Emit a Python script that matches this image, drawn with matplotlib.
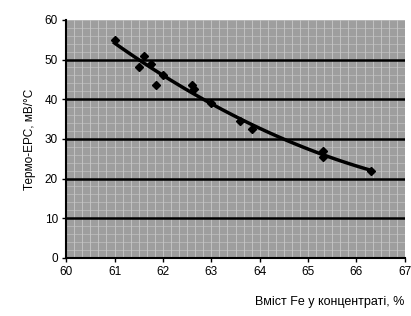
import numpy as np
import matplotlib
matplotlib.use("Agg")
import matplotlib.pyplot as plt

plt.rcParams['font.family'] = ['Liberation Sans Narrow', 'Liberation Sans', 'DejaVu Sans']

fe = [61.0, 61.5, 61.6, 61.75, 61.85, 62.0, 62.6, 62.65, 63.0, 63.6, 63.85, 65.3, 65.3, 66.3]
emf = [55.0, 48.0, 51.0, 49.0, 43.5, 46.0, 43.5, 42.5, 39.0, 34.5, 32.5, 27.0, 25.5, 22.0]
x_ticks = [60, 61, 62, 63, 64, 65, 66, 67]
y_ticks = [0, 10, 20, 30, 40, 50, 60]

fig = plt.figure(figsize=(4.11, 3.16), dpi=100)
ax = fig.add_axes([0.161, 0.184, 0.824, 0.753])
ax.set_facecolor('#9e9e9e')
ax.set_xlim(60, 67)
ax.set_ylim(0, 60)

# halftone-like texture
for xv in np.arange(60, 67.01, 1/6):
    ax.axvline(xv, color='#cfcfcf', lw=0.5, zorder=0.5)
for yv in np.arange(0, 60.01, 2.0):
    ax.axhline(yv, color='#c8c8c8', lw=0.4, zorder=0.5)

for yv in y_ticks[1:-1]:
    ax.axhline(yv, color='black', lw=1.8, zorder=1)

coef = np.polyfit(fe, emf, 2)
xs = np.linspace(61.0, 66.3, 100)
ax.plot(xs, np.polyval(coef, xs), color='black', lw=2.5, zorder=3)
ax.plot(fe, emf, linestyle='none', marker='D', ms=4.5, color='black', zorder=4)

ax.set_xticks(x_ticks)
ax.set_yticks(y_ticks)
ax.tick_params(axis='both', labelsize=8.5, length=3, width=1, direction='out', pad=3)
for s in ['top', 'right']:
    ax.spines[s].set_visible(False)
for s in ['left', 'bottom']:
    ax.spines[s].set_linewidth(1.5)

ax.set_ylabel('Термо-ЕРС, мВ/°С', fontsize=8.5, labelpad=6)
fig.text(0.983, 0.045, 'Вміст Fe у концентраті, %', ha='right', va='center', fontsize=9)

fig.savefig('out.png', dpi=100)
